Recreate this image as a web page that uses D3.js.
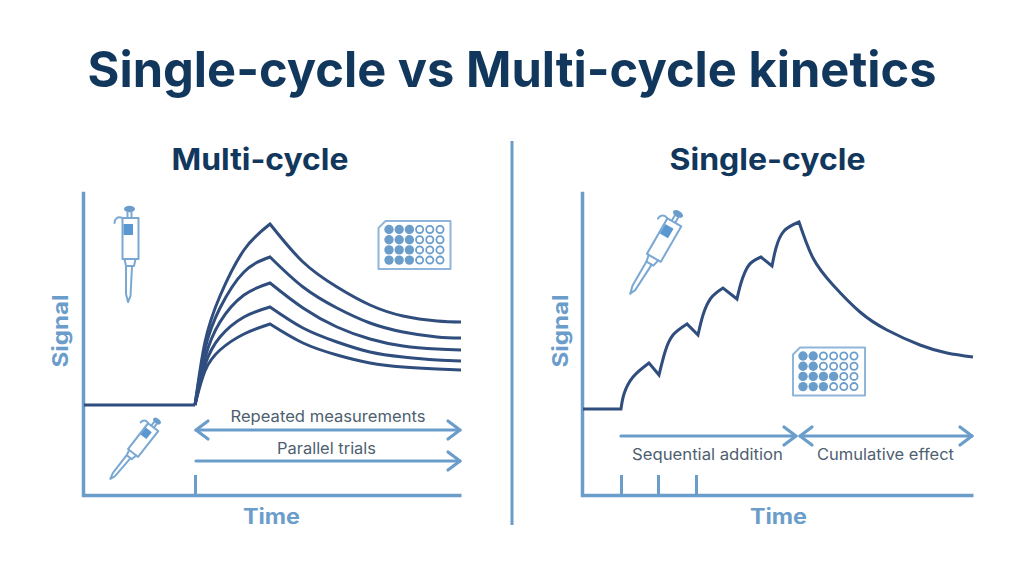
<!DOCTYPE html>
<html><head><meta charset="utf-8">
<script src="https://cdn.jsdelivr.net/npm/d3@7"></script>
<style>html,body{margin:0;padding:0;background:#fff}svg{display:block}text{font-family:Inter,"Open Sans",sans-serif}</style>
</head><body><svg id="c" width="1024" height="572"></svg>
<script>
// ---- data (arbitrary units) ----
const chartTitle = "Single-cycle vs Multi-cycle kinetics";
const multiBaseTime = [0, 111];
const multiBaseSignal = [90, 90];
const multiRiseTime = [111, 121, 136, 160, 186];
const multiDecayTime = [186, 219, 253, 286, 319, 353, 377];
const multiRise1 = [90, 153, 199, 245, 271];
const multiRise2 = [90, 146, 187, 223, 238];
const multiRise3 = [90, 137, 173, 200, 212];
const multiRise4 = [90, 130, 158, 178, 188];
const multiRise5 = [90, 124, 145, 161, 171];
const multiDecay1 = [271, 233, 208, 190, 179, 174, 173];
const multiDecay2 = [238, 208, 187, 172, 163, 158, 157];
const multiDecay3 = [212, 187, 168, 156, 149, 146, 145];
const multiDecay4 = [188, 167, 153, 143, 138, 135, 134];
const multiDecay5 = [171, 152, 140, 132, 128, 126, 125];
const multiInjections = [111];

const singleTime   = [0, 38, 38, 41, 50, 66, 76, 76, 82, 90, 104, 115, 115, 120, 128, 140, 154, 154, 158, 166, 178, 189, 189, 193, 201, 216, 216, 230, 250, 277, 304, 337, 364, 390];
const singleSignal = [86, 86, 86, 101, 118, 132, 120, 120, 143, 160, 171, 160, 160, 180, 197, 207, 196, 196, 212, 230, 238, 229, 229, 247, 264, 273, 273, 237, 210, 183, 165, 150, 142, 138];
const singleInjections = [38, 75, 113];
const plateRowsFilledLeft = [3, 3, 3, 3];
const plateRowsFilledRight = [2, 2, 4, 3];
const plateColumns = [0, 1, 2, 3, 4, 5];

// ---- style ----
const dark = "#2f4d7d", light = "#6b9dcb", textCol = "#4d5f70", navy = "#12375c";
const svg = d3.select("#c");

const xL = d3.scaleLinear().domain([0, 377]).range([84, 461]);
const yL = d3.scaleLinear().domain([0, 302]).range([495, 193]);
const xR = d3.scaleLinear().domain([0, 390]).range([583, 973]);
const yR = yL;

function txt(s, x, y, size, weight, fill, len, rot) {
  const t = svg.append("text").attr("x", x).attr("y", y).attr("text-anchor", "middle")
    .attr("font-size", size).attr("font-weight", weight).attr("fill", fill).text(s);
  if (len) t.attr("textLength", len).attr("lengthAdjust", "spacingAndGlyphs");
  if (rot) t.attr("transform", `rotate(${rot} ${x} ${y})`);
  return t;
}
txt(chartTitle, 512, 87, 50, 700, navy, 849);
txt("Multi-cycle", 260, 170, 30, 700, navy, 177);
txt("Single-cycle", 767.5, 170, 30, 700, navy, 196);
svg.append("line").attr("x1", 512).attr("x2", 512).attr("y1", 141).attr("y2", 525).attr("stroke", light).attr("stroke-width", 3);

function axes(x, y, ticks) {
  const gx = svg.append("g").attr("transform", `translate(0,${y(0)})`)
    .call(d3.axisBottom(x).tickValues(ticks).tickSizeInner(-20).tickSizeOuter(0).tickFormat(""));
  gx.selectAll("path,line").attr("stroke", light).attr("stroke-width", 3);
  gx.select("path").attr("stroke-width", 3.5);
  const gy = svg.append("g").attr("transform", `translate(${x(0) - 1},0)`)
    .call(d3.axisLeft(y).tickValues([]).tickSizeOuter(0));
  gy.select("path").attr("stroke", light).attr("stroke-width", 3.5).attr("stroke-linecap", "square");
}
axes(xL, yL, multiInjections);
axes(xR, yR, singleInjections);

txt("Signal", 68, 331, 21, 700, light, 73, -90);
txt("Signal", 568, 331, 21, 700, light, 73, -90);
txt("Time", 271.5, 524, 21, 700, light, 57);
txt("Time", 778.5, 524, 21, 700, light, 57);

// curves
function lineGen(x, y) {
  return d3.line().x(d => x(d[0])).y(d => y(d[1])).curve(d3.curveNatural);
}
function joined(gen, segments) {
  return segments.map((s, i) => { const d = gen(s); return i ? "L" + d.slice(1) : d; }).join("");
}
const lg = lineGen(xL, yL);
svg.append("path").attr("d", lg(d3.zip(multiBaseTime, multiBaseSignal)))
  .attr("fill", "none").attr("stroke", dark).attr("stroke-width", 3);
[[multiRise5, multiDecay5], [multiRise4, multiDecay4], [multiRise3, multiDecay3], [multiRise2, multiDecay2], [multiRise1, multiDecay1]]
  .forEach(([r, d]) => {
    svg.append("path").attr("d", joined(lg, [d3.zip(multiRiseTime, r), d3.zip(multiDecayTime, d)]))
      .attr("fill", "none").attr("stroke", dark).attr("stroke-width", 3).attr("stroke-linejoin", "miter");
  });

const rg = lineGen(xR, yR);
const segs = [[]];
singleTime.forEach((t, i) => {
  const cur = segs[segs.length - 1];
  cur.push([t, singleSignal[i]]);
  const next = singleTime[i + 1];
  // a new smooth segment begins wherever the trace changes direction at a cusp
  if (i > 0 && i < singleTime.length - 1 && (next === t || singleSignal[i + 1] < singleSignal[i] && singleSignal[i - 1] < singleSignal[i])) {
    segs.push(next === t ? [] : [[t, singleSignal[i]]]);
  }
});
svg.append("path").attr("d", joined(rg, segs.filter(s => s.length > 1)))
  .attr("fill", "none").attr("stroke", dark).attr("stroke-width", 3).attr("stroke-linejoin", "miter");

// arrows
function arrow(x1, x2, y, both) {
  const g = svg.append("g").attr("fill", "none").attr("stroke", light).attr("stroke-width", 3.2).attr("stroke-linecap", "round").attr("stroke-linejoin", "round");
  g.append("line").attr("x1", x1).attr("x2", x2).attr("y1", y).attr("y2", y);
  g.append("path").attr("d", d3.line()([[x2 - 12, y - 9], [x2, y], [x2 - 12, y + 9]]));
  if (both) g.append("path").attr("d", d3.line()([[x1 + 12, y - 9], [x1, y], [x1 + 12, y + 9]]));
}
arrow(xL(112), xL(376), 430, true);
arrow(xL(112), xL(376), 461, false);
arrow(xR(38), xR(213), 436, false);
arrow(xR(217), xR(389), 436, true);
txt("Repeated measurements", 328, 422, 15.5, 400, textCol, 195);
txt("Parallel trials", 326.5, 454, 15.5, 400, textCol, 99);
txt("Sequential addition", 707.5, 460, 15.5, 400, textCol, 151);
txt("Cumulative effect", 885.5, 460, 15.5, 400, textCol, 137);

// icons
function pipette(x, y, angle, k) {
  const g = svg.append("g").attr("transform", `translate(${x},${y}) rotate(${angle}) scale(${k})`)
    .attr("fill", "none").attr("stroke", "#7aa8d3").attr("stroke-width", 2 / k).attr("stroke-linejoin", "round").attr("stroke-linecap", "round");
  g.append("ellipse").attr("rx", 5.5).attr("ry", 3.2).attr("fill", "#6b9dcb").attr("stroke", "none");
  g.append("path").attr("d", "M-2 3V9M2 3V9");
  g.append("rect").attr("x", -7).attr("y", 9).attr("width", 16).attr("height", 41).attr("fill", "#fff");
  g.append("path").attr("d", "M-7 9C-12 7 -15 10 -15 14");
  g.append("rect").attr("x", -6).attr("y", 15).attr("width", 9.5).attr("height", 11).attr("fill", "#5b98d2").attr("stroke", "none");
  g.append("path").attr("d", "M-5 50L-3.5 57H4.5L6 50");
  g.append("path").attr("d", "M-3.5 57L-3.5 85L-1.5 93L1 87L2.5 57");
}
pipette(129.5, 209, 0, 1);
pipette(157, 421, 38, 0.8);
pipette(678, 214, 30, 1);

function plate(x0, y0, w, h, colStart, colStep, rowStart, rowStep, filled) {
  const g = svg.append("g");
  const c = 7;
  g.append("path").attr("d", `M${x0 + c} ${y0}H${x0 + w}V${y0 + h}H${x0}V${y0 + c}Z`)
    .attr("fill", "#fff").attr("stroke", "#8fb5da").attr("stroke-width", 2).attr("stroke-linejoin", "round");
  filled.forEach((n, r) => {
    g.selectAll(null).data(plateColumns).enter().append("circle")
      .attr("cx", d => colStart + d * colStep).attr("cy", rowStart + r * rowStep)
      .attr("r", d => d < n ? 4.7 : 3.6)
      .attr("fill", d => d < n ? light : "#fff")
      .attr("stroke", d => d < n ? "none" : light).attr("stroke-width", 1.8);
  });
}
plate(378.5, 221, 72, 48, 389, 10.2, 229.5, 10.2, plateRowsFilledLeft);
plate(793, 347.5, 72, 48, 803, 10.2, 356, 10.2, plateRowsFilledRight);
</script></body></html>
